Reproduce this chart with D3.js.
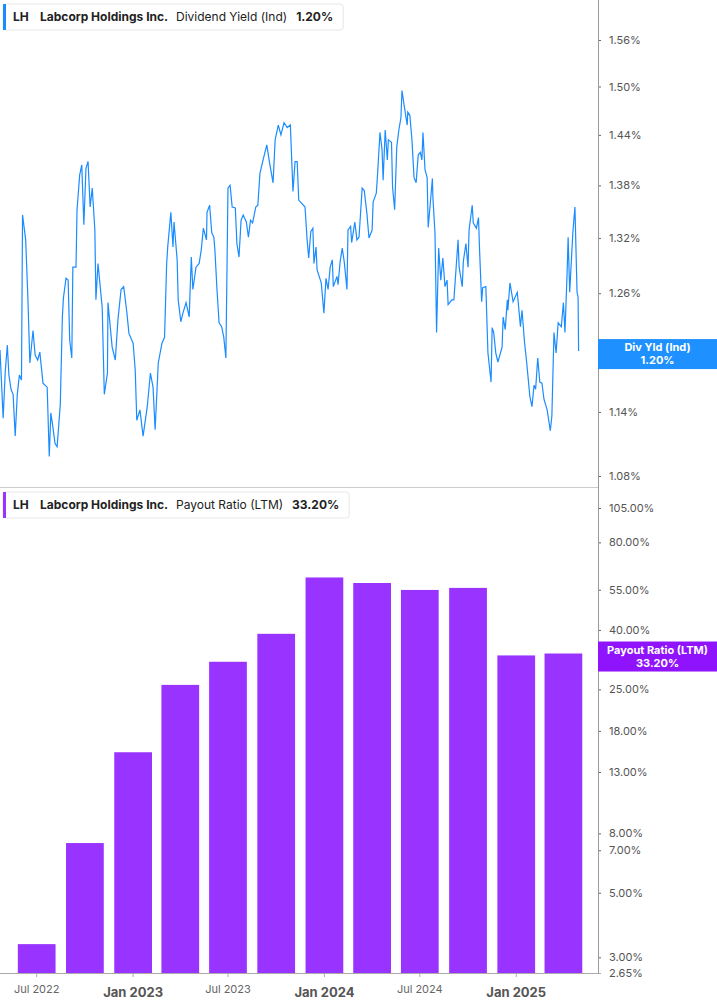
<!DOCTYPE html>
<html><head><meta charset="utf-8">
<script src="https://d3js.org/d3.v7.min.js"></script>
<style>
body{margin:0;background:#fff;font-family:Inter,"Noto Sans",sans-serif}
svg text{font-family:Inter,"Noto Sans",sans-serif}
</style></head>
<body><svg id="chart" width="717" height="1005"></svg>
<script>
// dividend yield: days since first observation (2022-04-22), value in %
var yieldStart = "2022-04-22";
var yieldDays = [0,6,10,14,17,21,25,29,33,37,41,43,49,53,57,63,67,72,76,82,90,94,97,101,105,109,115,119,121,126,130,133,137,139,145,147,152,156,160,164,168,172,176,181,183,187,195,199,205,206,214,220,225,231,236,242,246,254,258,261,267,273,281,287,292,296,302,309,314,318,320,326,330,332,338,340,345,349,355,361,365,368,374,380,384,388,394,395,400,404,408,410,414,418,423,427,431,435,439,443,449,452,456,460,464,470,474,478,482,488,492,496,502,509,515,521,525,531,536,542,548,554,559,563,567,570,576,582,586,589,593,597,599,603,605,613,618,622,626,630,634,636,643,645,649,653,657,662,664,669,671,677,681,685,691,695,700,704,710,712,718,720,725,729,731,735,739,741,747,749,753,757,761,765,767,771,777,778,782,786,790,794,798,802,805,807,811,815,817,821,825,826,830,833,837,841,845,849,853,855,862,866,870,874,876,882,884,889,893,895,901,903,909,913,915,919,921,927,931,937,939,942,946,950,958,960,964,968,969,973,979,987,993,996,1001,1005,1011,1015,1019,1022,1026,1030,1034,1038,1044,1050,1053,1057,1061,1065,1071,1075,1078,1082,1084,1087,1093,1097,1101,1103,1104];
var yieldVals = [1.201,1.134,1.179,1.206,1.176,1.162,1.157,1.117,1.157,1.176,1.171,1.346,1.318,1.258,1.188,1.221,1.196,1.191,1.199,1.168,1.164,1.098,1.139,1.125,1.110,1.107,1.147,1.235,1.255,1.276,1.274,1.211,1.193,1.288,1.288,1.352,1.392,1.404,1.335,1.400,1.408,1.355,1.377,1.329,1.253,1.292,1.245,1.157,1.178,1.250,1.204,1.191,1.232,1.264,1.267,1.240,1.218,1.208,1.181,1.132,1.142,1.117,1.145,1.178,1.164,1.123,1.188,1.208,1.214,1.292,1.310,1.349,1.310,1.338,1.296,1.253,1.230,1.239,1.250,1.235,1.299,1.264,1.288,1.292,1.307,1.331,1.318,1.349,1.357,1.326,1.321,1.307,1.264,1.229,1.225,1.214,1.193,1.377,1.380,1.355,1.354,1.314,1.299,1.340,1.346,1.338,1.321,1.340,1.337,1.355,1.357,1.394,1.410,1.428,1.404,1.383,1.434,1.452,1.440,1.455,1.449,1.452,1.373,1.408,1.408,1.363,1.359,1.355,1.318,1.298,1.327,1.331,1.292,1.310,1.285,1.271,1.239,1.276,1.264,1.288,1.296,1.267,1.278,1.269,1.294,1.309,1.293,1.264,1.329,1.333,1.315,1.338,1.318,1.321,1.377,1.374,1.348,1.320,1.329,1.361,1.371,1.389,1.443,1.422,1.386,1.446,1.410,1.434,1.431,1.378,1.352,1.425,1.446,1.461,1.495,1.477,1.452,1.468,1.464,1.434,1.389,1.383,1.416,1.419,1.410,1.443,1.398,1.389,1.332,1.359,1.388,1.366,1.325,1.219,1.309,1.274,1.298,1.267,1.274,1.248,1.253,1.253,1.285,1.318,1.288,1.267,1.294,1.314,1.288,1.329,1.357,1.337,1.331,1.343,1.307,1.251,1.266,1.267,1.198,1.169,1.224,1.219,1.198,1.189,1.204,1.235,1.222,1.253,1.242,1.271,1.251,1.261,1.225,1.242,1.208,1.188,1.155,1.145,1.166,1.162,1.193,1.169,1.168,1.152,1.142,1.122,1.136,1.219,1.198,1.229,1.225,1.250,1.219,1.281,1.321,1.261,1.326,1.355,1.261,1.256,1.200];
var yieldTicks = [1.08,1.14,1.20,1.26,1.32,1.38,1.44,1.50,1.56];

var payoutDates = ["2022-07-01","2022-10-01","2023-01-01","2023-04-01","2023-07-01","2023-10-01","2024-01-01","2024-04-01","2024-07-01","2024-10-01","2025-01-01","2025-04-01"];
var payoutVals = [3.33,7.41,15.2,25.9,31.1,38.8,60.6,58.0,54.9,55.8,32.7,33.2];
var payoutTicks = [2.65,3,5,7,8,13,18,25,40,55,80,105];

var xTicks = ["2022-07-01","2023-01-01","2023-07-01","2024-01-01","2024-07-01","2025-01-01"];

var parse = d3.utcParse("%Y-%m-%d");
var svg = d3.select("#chart");
var axisX = 598, W = 717;
var blue = "#1a8cff", purple = "#9933ff";

var x = d3.scaleUtc().domain([parse("2022-04-22"), parse("2025-06-06")]).range([0, axisX]);
var yTop = d3.scaleLog().domain([1.08, 1.56]).range([476, 40]);
var yBot = d3.scaleLog().domain([2.65, 105]).range([973, 508]);

// panel separator
svg.append("line").attr("x1",0).attr("x2",axisX).attr("y1",487.5).attr("y2",487.5).attr("stroke","#ccc");

// line
var t0 = parse(yieldStart);
var pts = yieldDays.map(function(d,i){ return {date: d3.utcDay.offset(t0, d), v: yieldVals[i]}; });
svg.append("path").datum(pts)
  .attr("fill","none").attr("stroke",blue).attr("stroke-width",1.2)
  .attr("d", d3.line().x(function(d){return x(d.date);}).y(function(d){return yTop(d.v);}));

// bars
svg.selectAll("rect.bar").data(payoutDates).join("rect").attr("class","bar")
  .attr("x", function(d){ return x(d3.utcDay.offset(parse(d), -36)); })
  .attr("width", function(d){ return x(d3.utcDay.offset(parse(d), 36)) - x(d3.utcDay.offset(parse(d), -36)); })
  .attr("y", function(d,i){ return yBot(payoutVals[i]); })
  .attr("height", function(d,i){ return 973 - yBot(payoutVals[i]); })
  .attr("fill", purple);

// right axes
function rightAxis(scale, ticks, fmt){
  var g = svg.append("g").attr("transform","translate("+axisX+",0)");
  g.call(d3.axisRight(scale).tickValues(ticks).tickFormat(fmt).tickSize(3).tickPadding(8));
  g.select(".domain").remove();
  g.selectAll(".tick line").attr("stroke","#666");
  g.selectAll(".tick text").attr("fill","#555").style("font-size","11px");
}
rightAxis(yTop, yieldTicks, function(d){ return d.toFixed(2)+"%"; });
rightAxis(yBot, payoutTicks, function(d){ return d.toFixed(2)+"%"; });
svg.append("line").attr("x1",axisX+0.5).attr("x2",axisX+0.5).attr("y1",0).attr("y2",973).attr("stroke","#999");
svg.append("line").attr("x1",0).attr("x2",axisX+3).attr("y1",973.5).attr("y2",973.5).attr("stroke","#aaa");

// x axis
var xg = svg.append("g");
xTicks.forEach(function(s){
  var d = parse(s), jan = d.getUTCMonth() === 0;
  xg.append("line").attr("x1",x(d)).attr("x2",x(d)).attr("y1",973).attr("y2",977).attr("stroke","#aaa");
  xg.append("text").attr("x",x(d)).attr("y", jan ? 997 : 993).attr("text-anchor","middle")
    .attr("fill", jan ? "#555" : "#666").style("font-size", jan ? "13px" : "11px")
    .style("font-weight", jan ? "bold" : "normal")
    .text(d3.utcFormat("%b %Y")(d));
});

// legends
function legend(y, color, label, val){
  var g = svg.append("g").attr("transform","translate(3,"+y+")");
  g.append("rect").attr("width",244).attr("height",26).attr("rx",3).attr("fill","#fff").attr("stroke","#e6e6e6");
  g.append("rect").attr("width",3).attr("height",26).attr("fill",color);
  var t = g.append("text").attr("y",17).style("font-size","12px").attr("fill","#222");
  t.append("tspan").attr("x",10).style("font-weight","bold").text("LH");
  t.append("tspan").attr("x",37).style("font-weight","bold").text("Labcorp Holdings Inc.");
  t.append("tspan").attr("x",173).text(label);
  t.append("tspan").attr("dx",9).style("font-weight","bold").text(val);
  var bb = t.node().getBBox();
  g.select("rect").attr("width", bb.x + bb.width + 10);
}
legend(4, blue, "Dividend Yield (Ind)", "1.20%");
legend(492, purple, "Payout Ratio (LTM)", "33.20%");

// value flags
function flag(v, scale, color, l1, l2){
  var yc = scale(v) + 3;
  svg.append("rect").attr("x",axisX).attr("y",yc-15).attr("width",W-axisX).attr("height",30).attr("fill",color);
  svg.append("text").attr("x",(axisX+W)/2).attr("y",yc-3).attr("text-anchor","middle").attr("fill","#fff")
    .style("font-size","11px").style("font-weight","bold").text(l1);
  svg.append("text").attr("x",(axisX+W)/2).attr("y",yc+10).attr("text-anchor","middle").attr("fill","#fff")
    .style("font-size","11px").style("font-weight","bold").text(l2);
}
flag(1.20, yTop, "#1e90ff", "Div Yld (Ind)", "1.20%");
flag(33.2, yBot, "#9013fe", "Payout Ratio (LTM)", "33.20%");
</script></body></html>
